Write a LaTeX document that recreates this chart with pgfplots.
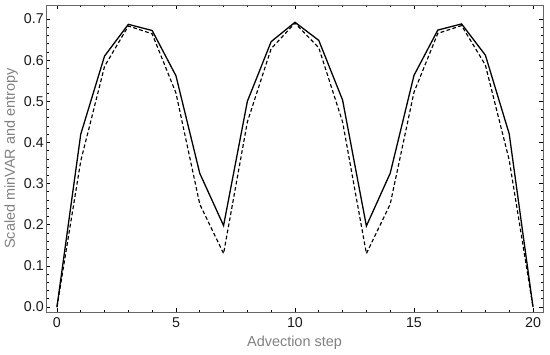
\documentclass[border=0pt]{standalone}
\usepackage{pgfplots}
\pgfplotsset{compat=1.18}
\usepackage{fontspec}
\setmainfont{Liberation Sans}
\definecolor{framegray}{gray}{0.4}
\definecolor{labgray}{gray}{0.5}
\definecolor{ticklab}{gray}{0.1}
\begin{document}
\begin{tikzpicture}
\begin{axis}[
  name=ax,
  scale only axis,
  width=497bp, height=307bp,
  xmin=-0.46, xmax=20.42,
  ymin=-0.012, ymax=0.734,
  xtick={0,5,10,15,20},
  ytick={0,0.1,0.2,0.3,0.4,0.5,0.6,0.7},
  yticklabel style={/pgf/number format/fixed,/pgf/number format/fixed zerofill,/pgf/number format/precision=1},
  minor x tick num=4,
  minor y tick num=4,
  tick align=inside,
  major tick length=4bp,
  minor tick length=2.5bp,
  tick style={black, line width=0.7pt},
  axis line style={framegray, line width=0.9pt},
  /pgf/number format/assume math mode=true,
  ticklabel style={font=\fontsize{14.3}{16}\selectfont, text=ticklab},
  xticklabel style={inner sep=0pt, yshift=-5bp},
  yticklabel style={inner sep=0pt, xshift=-2bp},
  xlabel={Advection step},
  ylabel={Scaled minVAR and entropy},
  label style={font=\fontsize{14.5}{16}\selectfont, text=labgray},
  xlabel style={inner sep=0pt, yshift=-9bp},
  ylabel style={inner sep=0pt, yshift=6bp},
  clip=false,
]
\addplot[black, line width=1.3pt] coordinates {
(0,0) (1,0.42) (2,0.61) (3,0.687) (4,0.672) (5,0.562) (6,0.325) (7,0.198)
(8,0.5) (9,0.645) (10,0.692) (11,0.648) (12,0.503) (13,0.197) (14,0.325)
(15,0.563) (16,0.673) (17,0.688) (18,0.612) (19,0.421) (20,0)
};
\addplot[black, line width=1.15pt, dash pattern=on 3.8bp off 2.4bp] coordinates {
(0,0) (1,0.355) (2,0.585) (3,0.683) (4,0.664) (5,0.52) (6,0.25) (7,0.13)
(8,0.45) (9,0.628) (10,0.69) (11,0.63) (12,0.45) (13,0.13) (14,0.25)
(15,0.522) (16,0.665) (17,0.684) (18,0.588) (19,0.357) (20,0)
};
\end{axis}
\path (ax.south west) ++(-46bp,-43bp);
\path (ax.north east) ++(7bp,5bp);
\end{tikzpicture}
\end{document}
